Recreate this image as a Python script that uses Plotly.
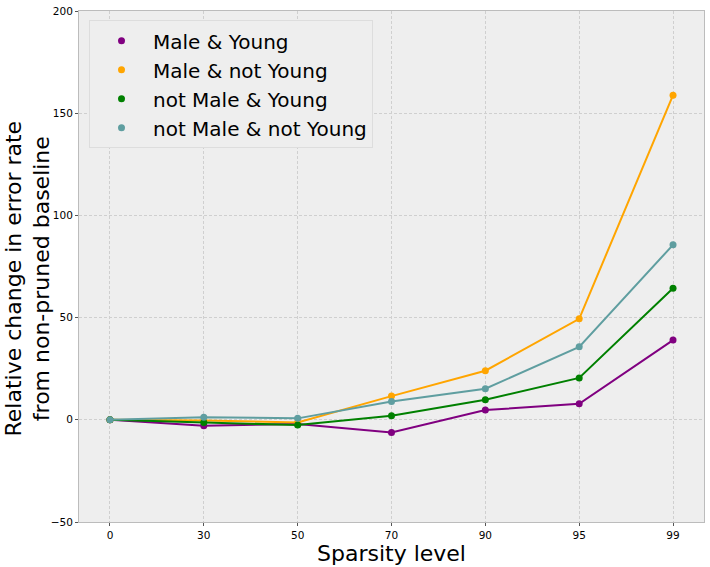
import plotly.graph_objects as go

sparsity = ["0", "30", "50", "70", "90", "95", "99"]
male_young = [0, -2.9, -2.0, -6.2, 4.8, 7.8, 39.0]
male_not_young = [0, -0.3, -1.3, 11.6, 24.0, 49.4, 158.8]
not_male_young = [0, -1.3, -2.6, 2.0, 9.8, 20.5, 64.4]
not_male_not_young = [0, 1.3, 0.7, 9.0, 15.2, 35.7, 85.6]

series = [
    ("Male & Young", male_young, "purple"),
    ("Male & not Young", male_not_young, "orange"),
    ("not Male & Young", not_male_young, "green"),
    ("not Male & not Young", not_male_not_young, "cadetblue"),
]

fig = go.Figure()
for name, vals, color in series:
    fig.add_trace(go.Scatter(
        x=list(range(len(sparsity))), y=vals, mode="lines+markers",
        line=dict(color=color, width=2), marker=dict(color=color, size=7),
        showlegend=False, name=name))
for name, vals, color in series:
    fig.add_trace(go.Scatter(
        x=[None], y=[None], mode="markers", name=name,
        marker=dict(color=color, size=7)))

fig.update_layout(
    width=710, height=567,
    margin=dict(l=79, r=6, t=11, b=45),
    paper_bgcolor="white", plot_bgcolor="#eeeeee",
    font=dict(family="DejaVu Sans", color="black"),
    legend=dict(x=0.016, y=0.982, xanchor="left", yanchor="top",
                bgcolor="#eeeeee", bordercolor="#dddddd", borderwidth=1,
                font=dict(size=20), itemwidth=53),
    xaxis=dict(
        tickmode="array", tickvals=list(range(len(sparsity))), ticktext=sparsity,
        range=[-0.33, 6.33], showgrid=True, gridcolor="#cfcfcf", griddash="3px,2px",
        gridwidth=1, zeroline=False, showline=True, linecolor="#bcbcbc", mirror=True,
        ticks="outside", ticklen=3, tickcolor="#555555", tickfont=dict(size=10.5),
        automargin=False,
        title=dict(text="Sparsity level", font=dict(size=22), standoff=4)),
    yaxis=dict(
        range=[-50, 200], tickvals=[-50, 0, 50, 100, 150, 200],
        showgrid=True, gridcolor="#cfcfcf", griddash="3px,2px", gridwidth=1,
        zeroline=False, showline=True, linecolor="#bcbcbc", mirror=True,
        ticks="outside", ticklen=3, tickcolor="#555555", tickfont=dict(size=10.5),
        automargin=False),
    annotations=[dict(
        text="Relative change in error rate<br>from non-pruned baseline",
        xref="paper", yref="paper", x=-0.0464, y=0.5, xshift=6, yshift=-12,
        xanchor="right", yanchor="middle", textangle=-90, showarrow=False,
        font=dict(size=22, color="black"))],
)

fig.write_html("out.html", post_script="document.body.style.margin='0';",
               config={"displayModeBar": False})
